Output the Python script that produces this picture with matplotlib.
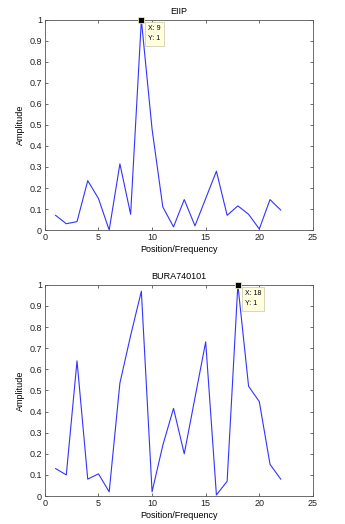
import matplotlib
matplotlib.use('Agg')
import matplotlib.pyplot as plt
import numpy as np

positions = list(range(1, 23))
eiip = [0.07, 0.03, 0.04, 0.235, 0.15, 0.0, 0.315, 0.075, 1.0, 0.48, 0.11,
        0.015, 0.145, 0.02, 0.15, 0.28, 0.07, 0.115, 0.075, 0.005, 0.145, 0.095]
bura = [0.13, 0.1, 0.64, 0.08, 0.105, 0.02, 0.535, 0.76, 0.97, 0.02, 0.24,
        0.415, 0.2, 0.465, 0.73, 0.005, 0.07, 1.0, 0.52, 0.447, 0.15, 0.08]
titles = ['EIIP', 'BURA740101']
peaks = [(9, 1), (18, 1)]

plt.rcParams['font.family'] = ['Liberation Sans', 'DejaVu Sans']
fig = plt.figure(figsize=(3.45, 5.24), dpi=100)
ax1 = fig.add_axes([0.130, 0.561, 0.777, 0.401])
ax2 = fig.add_axes([0.130, 0.0534, 0.777, 0.403])

for ax, data, title, (px, py) in zip([ax1, ax2], [eiip, bura], titles, peaks):
    ax.plot(positions, data, color='#3333ff', linewidth=0.8)
    ax.plot(px, py, 's', color='black', markersize=4, markeredgecolor='#ffffcc',
            markeredgewidth=0.5, clip_on=False, zorder=5)
    ax.annotate('X: %d\nY: %d' % (px, py), xy=(px, py), xytext=(5, -4),
                textcoords='offset points', ha='left', va='top', fontsize=5,
                linespacing=1.6,
                bbox=dict(boxstyle='square,pad=0.45', fc='#ffffe0', ec='#c8c8a0', lw=0.5))
    ax.set_xlim(0, 25)
    ax.set_ylim(0, 1)
    ax.set_xticks(np.arange(0, 26, 5))
    ax.set_yticks(np.arange(0, 1.01, 0.1))
    ax.set_yticklabels(['0'] + ['%.1f' % v for v in np.arange(0.1, 0.95, 0.1)] + ['1'])
    ax.tick_params(direction='in', top=True, right=True, labelsize=6.5, length=2.5,
                   width=0.5, pad=2, colors='#333333', labelcolor='#222222')
    for s in ax.spines.values():
        s.set_linewidth(0.6)
        s.set_color('#555555')
    ax.set_title(title, fontsize=6.5, pad=4)
    ax.set_xlabel('Position/Frequency', fontsize=6.5, labelpad=2)
    ax.set_ylabel('Amplitude', fontsize=6.5, labelpad=3)

fig.savefig('out.png', dpi=100)
